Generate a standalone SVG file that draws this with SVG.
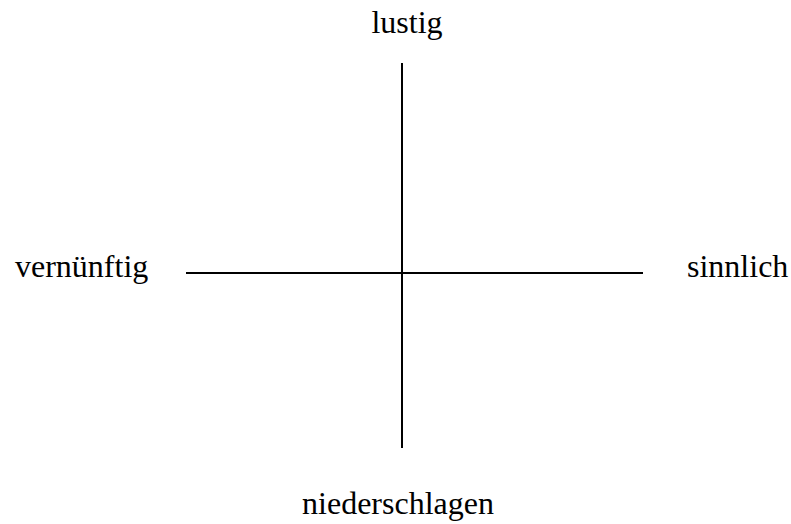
<svg xmlns="http://www.w3.org/2000/svg" width="791" height="524" viewBox="0 0 791 524">
<style>
.ax{stroke:#000;stroke-width:2;fill:none}
</style>
<rect width="791" height="524" fill="#fff"/>
<g id="connectors">
<line class="ax" x1="402" y1="63" x2="402" y2="448"/>
<line class="ax" x1="186" y1="273" x2="643" y2="273"/>
</g>
<g font-family="Liberation Serif, Times New Roman, serif" font-size="32" fill="#000">
<g id="lustig"><text x="407" y="33" text-anchor="middle">lustig</text></g>
<g id="vernuenftig"><text x="15" y="277">vernünftig</text></g>
<g id="sinnlich"><text x="687" y="277">sinnlich</text></g>
<g id="niederschlagen"><text x="398" y="514" text-anchor="middle">niederschlagen</text></g>
</g>
</svg>
